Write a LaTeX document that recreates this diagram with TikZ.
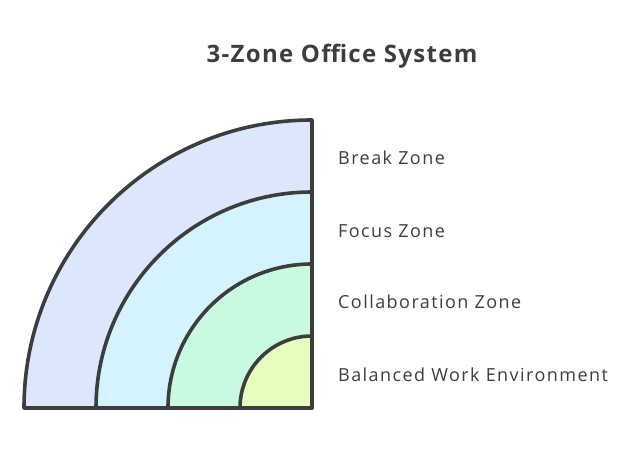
\documentclass[tikz,border=0pt]{standalone}
\usepackage{fontspec}
\setmainfont{Open Sans}
\newfontfamily\labelfont[LetterSpace=8]{Open Sans}
\newfontfamily\titlefont[LetterSpace=5.5]{Open Sans}
\usepackage{tikz}
\definecolor{ink}{HTML}{3D3D3D}
\definecolor{breakfill}{HTML}{DCE6FD}
\definecolor{focusfill}{HTML}{D4F3FD}
\definecolor{collabfill}{HTML}{C8FAE0}
\definecolor{workfill}{HTML}{E6FDC0}
\tikzset{
    zone/.style={draw=ink, line width=3.6pt, line join=round},
    zonelabel/.style={anchor=west, text=ink, font=\labelfont\fontsize{18}{21}\selectfont, inner sep=0pt}
}

\begin{document}
\begin{tikzpicture}[x=1pt, y=1pt]
    \useasboundingbox (0,0) rectangle (624,456);
    \coordinate (o) at (312, 48);

    \foreach \r/\c in {288/breakfill, 216/focusfill, 144/collabfill, 72/workfill} {
        \draw[zone, fill=\c] (o) -- ++(-\r, 0) arc (180:90:\r) -- cycle;
    }

    \node (title) [text=ink, font=\titlefont\fontsize{24}{28}\selectfont\bfseries] at (342, 400) {3-Zone Office System};

    \node (break) [zonelabel] at (338, 298) {Break Zone};
    \node (focus) [zonelabel] at (338, 225) {Focus Zone};
    \node (collab) [zonelabel] at (338, 154) {Collaboration Zone};
    \node (work) [zonelabel] at (338, 81) {Balanced Work Environment};
\end{tikzpicture}
\end{document}
